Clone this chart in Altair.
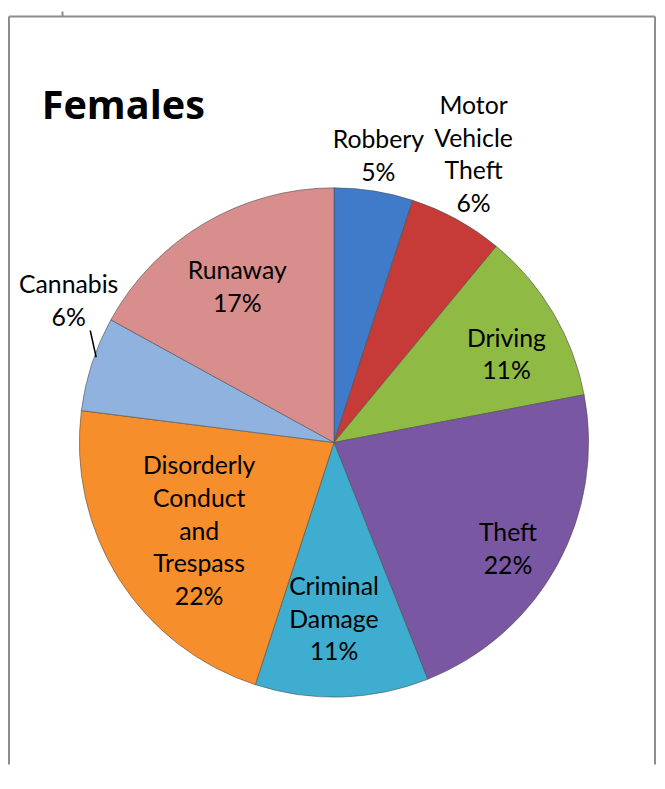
import altair as alt
import pandas as pd

# ---- data ----
categories = ["Robbery", "Motor Vehicle Theft", "Driving", "Theft",
              "Criminal Damage", "Disorderly Conduct and Trespass",
              "Cannabis", "Runaway"]
percent = [5, 6, 11, 22, 11, 22, 6, 17]
label_text = ["Robbery\n5%", "Motor\nVehicle\nTheft\n6%", "Driving\n11%",
              "Theft\n22%", "Criminal\nDamage\n11%",
              "Disorderly\nConduct\nand\nTrespass\n22%", "Cannabis\n6%",
              "Runaway\n17%"]
colors = ["#3f7bc8", "#c63b38", "#8fba44", "#7a57a2",
          "#3fadcf", "#f68e2c", "#90b2de", "#d88e8c"]

# ---- label layout (degrees clockwise from 12 o'clock, px from centre) ----
label_angle = [8.7, 25.6, 62.1, 120.6, 180.0, 237.7, 298.6, 328.7]
label_radius = [296, 326, 197, 204, 175, 161, 305, 188]

CX, CY, R = 329, 435, 257
LH = 33
FONT = "Lato"

df = pd.DataFrame({
    "idx": list(range(len(categories))),
    "category": categories,
    "percent": percent,
    "label": label_text,
    "lang": label_angle,
    "lrad": label_radius,
})

color_scale = alt.Scale(domain=categories, range=colors)

shadow = alt.Chart(pd.DataFrame({"v": [1]})).mark_arc(
    outerRadius=R + 2, color="#000000", opacity=0.10
).encode(theta=alt.Theta("v:Q"), x=alt.value(CX), y=alt.value(CY + 7))

pie = alt.Chart(df).mark_arc(
    outerRadius=R, stroke="#4a4a4a", strokeWidth=0.8, strokeOpacity=0.7
).encode(
    theta=alt.Theta("percent:Q", stack=True),
    color=alt.Color("category:N", scale=color_scale, legend=None),
    order=alt.Order("idx:Q"),
    x=alt.value(CX), y=alt.value(CY),
)

labels = alt.Chart(df).transform_calculate(
    nl="length(split(datum.label, '\\n'))",
    px=f"{CX} + datum.lrad * sin(datum.lang * PI / 180)",
    py=f"{CY} - datum.lrad * cos(datum.lang * PI / 180) - (datum.nl - 1) * {LH} / 2",
).mark_text(
    font=FONT, fontSize=25, lineHeight=LH, lineBreak="\n", dy=4,
    align="center", baseline="middle", color="#000000"
).encode(
    x=alt.X("px:Q", scale=None, axis=None),
    y=alt.Y("py:Q", scale=None, axis=None),
    text="label:N",
)

one = pd.DataFrame({"d": [0]})
leader = alt.Chart(one).mark_rule(color="#000000", strokeWidth=1.5).encode(
    x=alt.value(83), y=alt.value(322), x2=alt.value(89), y2=alt.value(349))

frame_style = dict(color="#8c8c8c", strokeWidth=2)
frame_left = alt.Chart(one).mark_rule(**frame_style).encode(
    x=alt.value(1), y=alt.value(5), y2=alt.value(760))
frame_right = alt.Chart(one).mark_rule(**frame_style).encode(
    x=alt.value(653), y=alt.value(5), y2=alt.value(760))
frame_top = alt.Chart(one).mark_rule(**frame_style).encode(
    x=alt.value(1), x2=alt.value(653), y=alt.value(5))
frame_stub = alt.Chart(one).mark_rule(**frame_style).encode(
    x=alt.value(55), y=alt.value(0), y2=alt.value(5))

title = alt.Chart(pd.DataFrame({"t": ["Females"]})).mark_text(
    font="Open Sans", fontSize=40, fontWeight="bold", align="left",
    baseline="alphabetic", color="#000000"
).encode(text="t:N", x=alt.value(34), y=alt.value(109))

chart = alt.layer(
    frame_left, frame_right, frame_top, frame_stub,
    shadow, pie, labels, leader, title
).properties(
    width=655, height=760,
    autosize=alt.AutoSizeParams(type="none"),
    padding=0,
    background="#ffffff",
).configure_view(stroke=None)

chart.save("out.html", embed_options={"renderer": "svg", "actions": False})
